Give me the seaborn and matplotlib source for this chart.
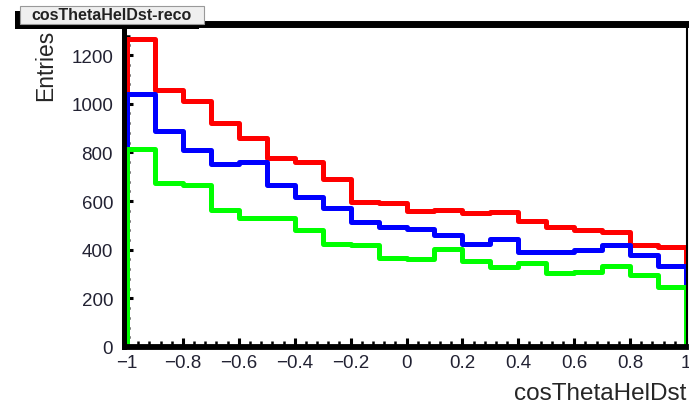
import numpy as np
import pandas as pd
import matplotlib
matplotlib.use("Agg")
import matplotlib.pyplot as plt
from matplotlib.patches import Rectangle
from matplotlib.ticker import MultipleLocator
import seaborn as sns

# histogram binning and contents
bin_edges = [round(-1.0 + 0.1 * i, 2) for i in range(21)]
red_counts = [1266, 1058, 1012, 921, 859, 775, 759, 690, 595, 590,
              559, 565, 549, 556, 520, 492, 483, 471, 419, 410]
blue_counts = [1040, 889, 810, 752, 759, 666, 615, 571, 512, 495,
               485, 460, 423, 444, 392, 392, 397, 419, 378, 332]
green_counts = [816, 676, 667, 565, 530, 529, 483, 423, 420, 365,
                362, 403, 355, 328, 344, 303, 310, 334, 296, 245]
series_names = ["red", "blue", "green"]
series_colors = ["#ff0000", "#0000ff", "#00ff00"]
x_ticks = [-1, -0.8, -0.6, -0.4, -0.2, 0, 0.2, 0.4, 0.6, 0.8, 1]
y_ticks = [0, 200, 400, 600, 800, 1000, 1200]

sns.set_style("white")
plt.rcParams["font.family"] = ["Liberation Sans", "DejaVu Sans"]
plt.rcParams["axes.unicode_minus"] = True

edges = np.array(bin_edges)
centers = (edges[:-1] + edges[1:]) / 2
df = pd.DataFrame({
    "cosThetaHelDst": np.tile(centers, 3),
    "entries": np.concatenate([red_counts, blue_counts, green_counts]),
    "sample": np.repeat(series_names, len(centers)),
})

W, H = 689, 414
fig = plt.figure(figsize=(W / 100, H / 100), dpi=100)
ax = fig.add_axes([127 / W, 1 - 348 / H, 559 / W, (348 - 24.5) / H])

# red first, green last (on top), like the reference
for name, color in zip(series_names, series_colors):
    sns.histplot(
        data=df[df["sample"] == name],
        x="cosThetaHelDst",
        weights="entries",
        bins=bin_edges,
        element="step",
        fill=True,
        color=color,
        facecolor="none",
        edgecolor=color,
        linewidth=3.6,
        ax=ax,
    )

ax.set_xlim(-1, 1)
ax.set_ylim(0, 1330)
ax.set_xticks(x_ticks)
ax.set_xticklabels(["\u22121", "\u22120.8", "\u22120.6", "\u22120.4", "\u22120.2",
                    "0", "0.2", "0.4", "0.6", "0.8", "1"])
ax.set_yticks(y_ticks)
ax.xaxis.set_minor_locator(MultipleLocator(0.04))
ax.yaxis.set_minor_locator(MultipleLocator(40))

ax.tick_params(which="both", bottom=True, left=True, top=False, right=False)
ax.tick_params(axis="both", which="major", direction="in", length=6.5, width=2.2,
               color="black", labelsize=13.5, labelcolor="#222233")
ax.tick_params(axis="both", which="minor", direction="in", length=4, width=1.8,
               color="black")
ax.tick_params(axis="y", which="major", pad=7.5)
ax.tick_params(axis="x", which="major", pad=5)

# ROOT-like frame
ax.spines["left"].set_linewidth(3.6)
ax.spines["left"].set_position(("outward", 2.5))
ax.spines["bottom"].set_linewidth(4.2)
ax.spines["top"].set_linewidth(5)
ax.spines["right"].set_linewidth(1.5)
ax.spines["right"].set_position(("outward", 1))
for s in ax.spines.values():
    s.set_color("black")
    s.set_capstyle("projecting")

ax.set_xlabel("cosThetaHelDst", fontsize=17.5, loc="right", labelpad=8)
ax.set_ylabel("Entries", fontsize=16.5, loc="top", labelpad=10)
ax.yaxis.label.set_y(0.985)
ax.grid(False)


def px(x0, y0, w, h):
    return (x0 / W, 1 - (y0 + h) / H), w / W, h / H


# title box with shadow
xy, w, h = px(15, 12, 184, 18)
fig.add_artist(Rectangle(xy, w, h, transform=fig.transFigure,
                         facecolor="black", edgecolor="none", zorder=5))
xy, w, h = px(20, 7, 184, 17.5)
fig.add_artist(Rectangle(xy, w, h, transform=fig.transFigure,
                         facecolor="#efefef", edgecolor="#999999",
                         linewidth=0.8, zorder=6))
fig.text(112 / W, 1 - 16 / H, "cosThetaHelDst-reco", ha="center", va="center",
         fontsize=11.5, fontweight="bold", color="#222222", zorder=7)

fig.savefig("out.png", dpi=100)
